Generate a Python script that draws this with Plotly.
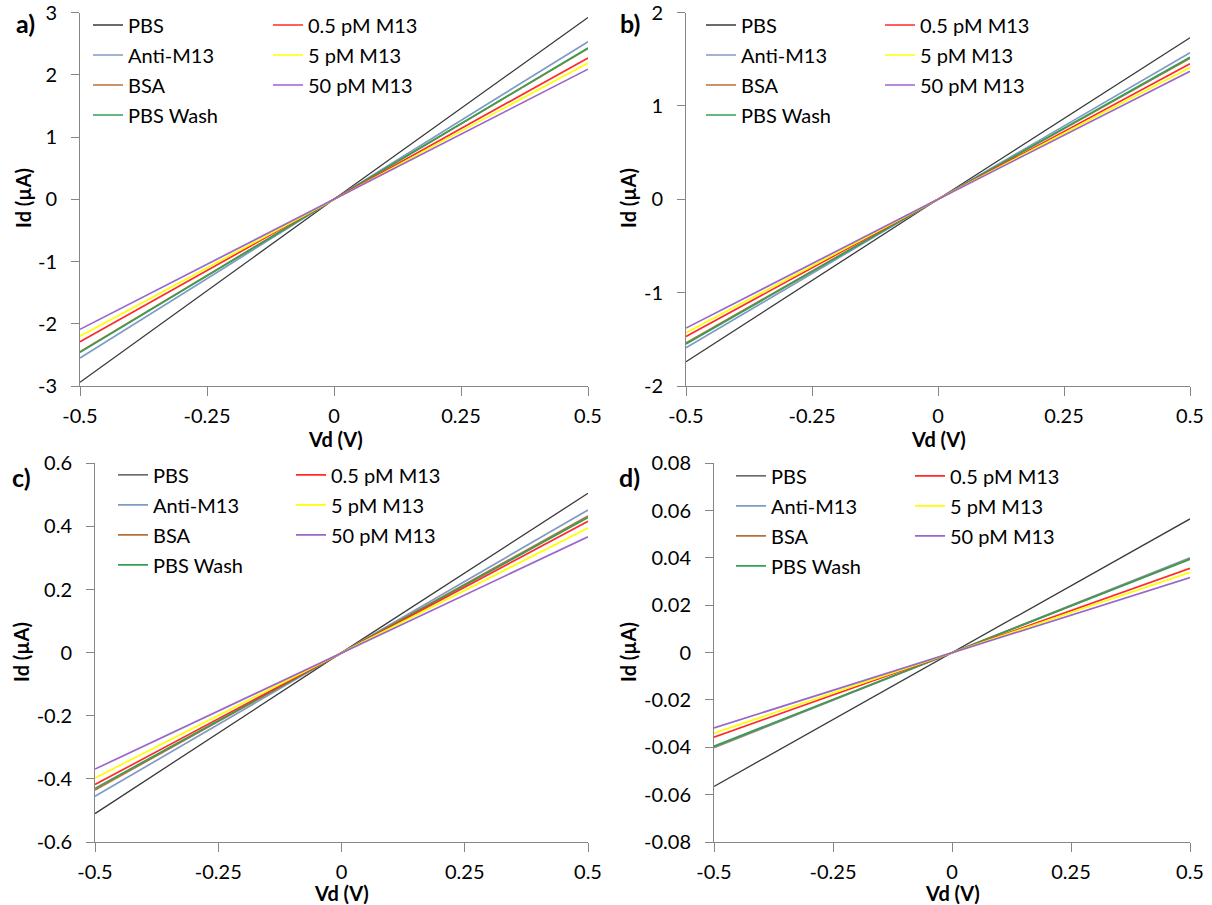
import plotly.graph_objects as go

# Drain voltage sweep (V)
vd = [-0.5, 0.0, 0.5]

series_names = ["PBS", "Anti-M13", "BSA", "PBS Wash", "0.5 pM M13", "5 pM M13", "50 pM M13"]
series_colors = ["#3a3a3a", "#7f9ac4", "#b8703a", "#33a054", "#ff2a2a", "#ffff00", "#9966cc"]

# Drain current Id (µA) at each Vd, panel a
a_pbs = [-2.94, 0.0, 2.92]
a_anti = [-2.55, 0.0, 2.53]
a_bsa = [-2.45, 0.0, 2.42]
a_wash = [-2.46, 0.0, 2.43]
a_p05 = [-2.29, 0.0, 2.27]
a_p5 = [-2.20, 0.0, 2.19]
a_p50 = [-2.09, 0.0, 2.09]

# panel b
b_pbs = [-1.74, 0.0, 1.73]
b_anti = [-1.59, 0.0, 1.57]
b_bsa = [-1.54, 0.0, 1.51]
b_wash = [-1.55, 0.0, 1.52]
b_p05 = [-1.47, 0.0, 1.45]
b_p5 = [-1.43, 0.0, 1.41]
b_p50 = [-1.38, 0.0, 1.37]

# panel c
c_pbs = [-0.510, 0.0, 0.505]
c_anti = [-0.455, 0.0, 0.452]
c_bsa = [-0.435, 0.0, 0.433]
c_wash = [-0.430, 0.0, 0.428]
c_p05 = [-0.418, 0.0, 0.416]
c_p5 = [-0.397, 0.0, 0.395]
c_p50 = [-0.369, 0.0, 0.367]

# panel d
d_pbs = [-0.0565, 0.0, 0.0565]
d_anti = [-0.0402, 0.0, 0.0401]
d_bsa = [-0.0398, 0.0, 0.0397]
d_wash = [-0.0395, 0.0, 0.0394]
d_p05 = [-0.0357, 0.0, 0.0356]
d_p5 = [-0.0340, 0.0, 0.0339]
d_p50 = [-0.0318, 0.0, 0.0317]

# Tick values and labels
x_ticks = [-0.5, -0.25, 0, 0.25, 0.5]
x_ticktext = ["-0.5", "-0.25", "0", "0.25", "0.5"]
a_ticks = [-3, -2, -1, 0, 1, 2, 3]
a_ticktext = ["-3", "-2", "-1", "0", "1", "2", "3"]
b_ticks = [-2, -1, 0, 1, 2]
b_ticktext = ["-2", "-1", "0", "1", "2"]
c_ticks = [-0.6, -0.4, -0.2, 0, 0.2, 0.4, 0.6]
c_ticktext = ["-0.6", "-0.4", "-0.2", "0", "0.2", "0.4", "0.6"]
d_ticks = [-0.08, -0.06, -0.04, -0.02, 0, 0.02, 0.04, 0.06, 0.08]
d_ticktext = ["-0.08", "-0.06", "-0.04", "-0.02", "0", "0.02", "0.04", "0.06", "0.08"]

panel_labels = ["a)", "b)", "c)", "d)"]
x_title = "Vd (V)"
y_title = "Id (µA)"

W, H = 1212, 905
FONT = "Lato, Carlito, Calibri, sans-serif"
AXIS_GRAY = "#868686"

# pixel frame of each panel, legend text offsets, panel-label and axis-title positions
panels = [
    dict(data=[a_pbs, a_anti, a_bsa, a_wash, a_p05, a_p5, a_p50], ticks=a_ticks, ticktext=a_ticktext,
         rng=[-3, 3], px=(80, 588), py=(12.5, 386), leg=(48, 228, 7), lab=(25, 23),
         xt=(335, 439), yt=(23, 198)),
    dict(data=[b_pbs, b_anti, b_bsa, b_wash, b_p05, b_p5, b_p50], ticks=b_ticks, ticktext=b_ticktext,
         rng=[-2, 2], px=(686, 1190), py=(12.5, 386), leg=(55, 234, 7), lab=(630, 23),
         xt=(938, 439), yt=(628, 198)),
    dict(data=[c_pbs, c_anti, c_bsa, c_wash, c_p05, c_p5, c_p50], ticks=c_ticks, ticktext=c_ticktext,
         rng=[-0.6, 0.6], px=(95, 588), py=(463.3, 842), leg=(58, 236, 8), lab=(21, 477),
         xt=(341, 893), yt=(21, 652)),
    dict(data=[d_pbs, d_anti, d_bsa, d_wash, d_p05, d_p5, d_p50], ticks=d_ticks, ticktext=d_ticktext,
         rng=[-0.08, 0.08], px=(714, 1190), py=(463.3, 842), leg=(57, 236, 7), lab=(629, 477),
         xt=(952, 893), yt=(628, 652)),
]

fig = go.Figure()
layout = dict(
    width=W, height=H,
    margin=dict(l=0, r=0, t=0, b=0),
    paper_bgcolor="white", plot_bgcolor="white",
    font=dict(family=FONT, size=20, color="#000000"),
    showlegend=True,
    annotations=[],
)

for i, p in enumerate(panels):
    n = i + 1
    xa = "x" if n == 1 else f"x{n}"
    ya = "y" if n == 1 else f"y{n}"
    leg1 = "legend" if n == 1 else f"legend{2 * n - 1}"
    leg2 = f"legend{2 * n}"
    for k, (name, col, ys) in enumerate(zip(series_names, series_colors, p["data"])):
        fig.add_trace(go.Scatter(
            x=vd, y=ys, mode="lines", name=name,
            line=dict(color=col, width=1.3 if k == 0 else 1.7),
            xaxis=xa, yaxis=ya,
            legend=leg1 if k < 4 else leg2,
            legendgroup=f"{panel_labels[i]}{name}",
        ))

    x0, x1 = p["px"]
    y0, y1 = p["py"]
    xdom = [x0 / W, x1 / W]
    ydom = [1 - y1 / H, 1 - y0 / H]
    xkey = "xaxis" if n == 1 else f"xaxis{n}"
    ykey = "yaxis" if n == 1 else f"yaxis{n}"
    layout[xkey] = dict(
        domain=xdom, anchor=ya, range=[-0.5, 0.5],
        tickvals=x_ticks, ticktext=x_ticktext,
        showline=True, linecolor=AXIS_GRAY, linewidth=1,
        ticks="outside", ticklen=9, tickcolor=AXIS_GRAY,
        ticklabelstandoff=3, ticklabeloverflow="allow",
        showgrid=False, zeroline=False,
        tickfont=dict(size=20),
        automargin=False,
    )
    layout[ykey] = dict(
        domain=ydom, anchor=xa, range=p["rng"],
        tickvals=p["ticks"], ticktext=p["ticktext"],
        showline=True, linecolor=AXIS_GRAY, linewidth=1,
        ticks="outside", ticklen=8, tickcolor=AXIS_GRAY,
        ticklabelstandoff=10, ticklabeloverflow="allow",
        showgrid=False, zeroline=False,
        tickfont=dict(size=20),
        automargin=False,
    )

    legend_common = dict(
        xanchor="left", yanchor="top", bgcolor="rgba(0,0,0,0)",
        font=dict(size=20), itemwidth=30, borderwidth=0, tracegroupgap=1,
        itemclick=False, itemdoubleclick=False,
    )
    off1, off2, top = p["leg"]
    ly = 1 - (y0 - top) / H
    layout[leg1] = dict(legend_common, x=(x0 + off1 - 40) / W, y=ly)
    layout[leg2] = dict(legend_common, x=(x0 + off2 - 40) / W, y=ly)

    lx, lyy = p["lab"]
    layout["annotations"].append(dict(
        text=f"<b>{panel_labels[i]}</b>", xref="paper", yref="paper",
        x=lx / W, y=1 - lyy / H,
        xanchor="center", yanchor="middle", showarrow=False,
        font=dict(size=25, family=FONT),
    ))
    tx, ty = p["xt"]
    layout["annotations"].append(dict(
        text=f"<b>{x_title}</b>", xref="paper", yref="paper",
        x=tx / W, y=1 - ty / H,
        xanchor="center", yanchor="middle", showarrow=False,
        font=dict(size=20, family=FONT),
    ))
    sx, sy = p["yt"]
    layout["annotations"].append(dict(
        text=f"<b>{y_title}</b>", xref="paper", yref="paper",
        x=sx / W, y=1 - sy / H, textangle=-90,
        xanchor="center", yanchor="middle", showarrow=False,
        font=dict(size=20, family=FONT),
    ))

fig.update_layout(**layout)
fig.write_html("out.html")
